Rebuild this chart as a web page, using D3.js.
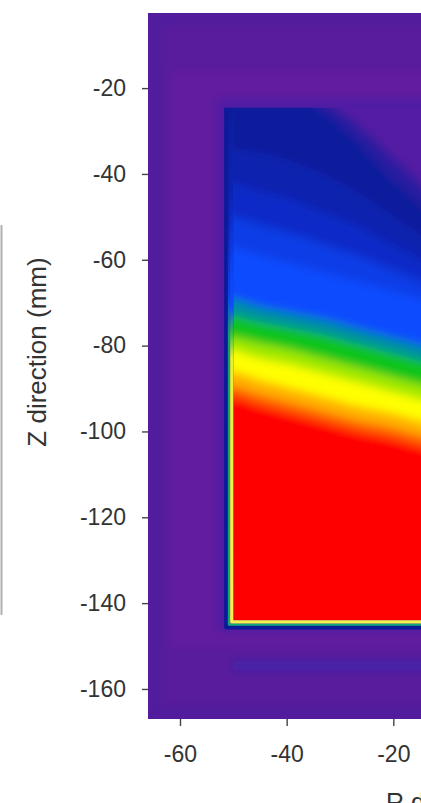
<!DOCTYPE html>
<html>
<head>
<meta charset="utf-8">
<script src="https://cdn.jsdelivr.net/npm/d3@7"></script>
<style>
  html, body { margin: 0; padding: 0; background: #ffffff; }
  svg { display: block; }
  text { font-family: "Liberation Sans", Arial, Helvetica, sans-serif; fill: #333333; }
</style>
</head>
<body>
<svg id="chart" width="421" height="803"></svg>
<script>
// ---- axis ticks (mm) ----
const rTicks = [-60, -40, -20];
const zTicks = [-20, -40, -60, -80, -100, -120, -140, -160];

// ---- field bands ----
// R positions (mm) at which the band boundaries are given
const colR = [-70, -51, -45, -39, -33, -27, -21, -15, -9, 0];
// normalized field levels and the colour used below each boundary
const fieldLevels = [0.1, 0.2, 0.25, 0.3, 0.38, 0.45, 0.55, 0.62, 0.72, 0.78, 0.86, 0.93, 1.0];
const fieldColors = ["#2a1ca0", "#0a1c9c", "#0a22ae", "#0a2cc8", "#0a3ce6", "#0a4cff", "#0090a0",
                     "#10c41a", "#a0e800", "#ffff00", "#ffb000", "#ff5a00", "#ff0000"];
// Z depth (mm) at which each level is reached, per R column
const depth10  = [-21, -21, -21, -21, -23, -28, -35, -42, -50, -62];
const depth20  = [-22, -22, -22, -22, -25.5, -32, -40, -47, -55, -67];
const depth25  = [-34, -34, -35, -37, -40, -44, -49, -54, -60, -68];
const depth30  = [-42, -42, -44, -46, -49, -52, -56, -60, -64, -70];
const depth38  = [-50, -50, -52, -54, -56.5, -59, -62, -65, -68, -72];
const depth45  = [-57, -57, -59, -61, -63, -65, -67, -69, -71, -74];
const depth55  = [-69, -69, -71, -72.5, -74, -76, -78, -80, -82, -85];
const depth62  = [-73, -73, -74.5, -76, -77.5, -79.5, -81.5, -83.5, -85.5, -88];
const depth72  = [-78, -78, -79.5, -81, -83, -85, -87, -89, -91, -94];
const depth78  = [-81, -81, -83, -84.5, -86.5, -88.5, -90.5, -92.5, -94.5, -97];
const depth86  = [-86, -86, -88, -90, -92, -94, -95.5, -97.5, -99.5, -102];
const depth93  = [-89.5, -89.5, -91.5, -93.5, -95.5, -97.5, -99, -101, -103, -106];
const depth100 = [-92, -92, -94, -96, -98, -100, -101.5, -103.5, -105.5, -108];
const levelDepths = [depth10, depth20, depth25, depth30, depth38, depth45, depth55, depth62,
                     depth72, depth78, depth86, depth93, depth100];

// ---- surrounding medium (purple shades), rectangles in mm: [r0, r1, z0, z1] ----
const bgColor = "#561c9c";
const blockBg = "#521da2";
const ringRects = [
  [-66, 66, -2.5, -167],
  [-63.5, 63.5, -5, -164],
  [-62, 62, -16, -150],
  [-53, 53, -22.5, -146.5]
];
const ringColors = ["#4f1e9e", "#581b9c", "#621a9f", "#4e1da4"];
const bandRect = [-50, 50, -153.3, -155.8];
const bandColor = "#4220a8";

// ---- inner block outline (mm) ----
const blockLeft = -50, blockTop = -24.6, blockBottom = -144;

const W = 421, H = 803;
const svg = d3.select("#chart");

const x = d3.scaleLinear().domain([-66, 66]).range([148, 148 + 132 * 5.333]);
const y = d3.scaleLinear().domain([-2.5, -167]).range([13, 719]);

const defs = svg.append("defs");
defs.append("clipPath").attr("id", "plotClip")
  .append("rect")
  .attr("x", x(-66)).attr("y", y(-2.5))
  .attr("width", x(66) - x(-66)).attr("height", y(-167) - y(-2.5));

defs.append("clipPath").attr("id", "blockClip")
  .append("rect")
  .attr("x", x(blockLeft)).attr("y", y(blockTop))
  .attr("width", W - x(blockLeft) + 50).attr("height", y(blockBottom) - y(blockTop));

function blurFilter(id, sd) {
  defs.append("filter").attr("id", id)
    .attr("filterUnits", "userSpaceOnUse")
    .attr("x", -50).attr("y", -50).attr("width", W + 100).attr("height", H + 100)
    .append("feGaussianBlur").attr("stdDeviation", sd);
}
blurFilter("softBg", 5);
blurFilter("softField", 5);

// stroke gradients along the block's left/bottom edge
function edgeGradient(id, stops) {
  const g = defs.append("linearGradient").attr("id", id)
    .attr("gradientUnits", "userSpaceOnUse")
    .attr("x1", 0).attr("x2", 0).attr("y1", y(-25)).attr("y2", y(-145));
  stops.forEach(([z, c]) => {
    g.append("stop").attr("offset", (y(z) - y(-25)) / (y(-145) - y(-25))).attr("stop-color", c);
  });
}
edgeGradient("edgeInner", [[-25, "#0a1c9c"], [-45, "#0a24b4"], [-62, "#0a44f0"], [-71, "#0a50ff"],
                           [-77, "#30c040"], [-83, "#e8f030"], [-145, "#f6f050"]]);
edgeGradient("edgeMid",   [[-25, "#0a1c9c"], [-50, "#0a24b4"], [-68, "#0a40e8"], [-78, "#10a070"],
                           [-145, "#10a878"]]);

const plot = svg.append("g").attr("clip-path", "url(#plotClip)");

// surrounding medium
const bg = plot.append("g").attr("filter", "url(#softBg)");
bg.append("rect")
  .attr("x", x(-66) - 20).attr("y", y(-2.5) - 20)
  .attr("width", x(66) - x(-66) + 40).attr("height", y(-167) - y(-2.5) + 40)
  .attr("fill", bgColor);
bg.selectAll("rect.ring").data(ringRects).join("rect").attr("class", "ring")
  .attr("x", d => x(d[0])).attr("y", d => y(d[2]))
  .attr("width", d => x(d[1]) - x(d[0])).attr("height", d => y(d[3]) - y(d[2]))
  .attr("fill", (d, i) => ringColors[i]);
bg.append("rect")
  .attr("x", x(bandRect[0])).attr("y", y(bandRect[2]))
  .attr("width", x(bandRect[1]) - x(bandRect[0])).attr("height", y(bandRect[3]) - y(bandRect[2]))
  .attr("fill", bandColor);

// inner block field
const block = plot.append("g").attr("clip-path", "url(#blockClip)");
const field = block.append("g").attr("filter", "url(#softField)");
field.append("rect")
  .attr("x", x(-66)).attr("y", y(-2.5))
  .attr("width", x(66) - x(-66)).attr("height", y(-167) - y(-2.5))
  .attr("fill", blockBg);

const area = d3.area()
  .x(d => x(d[0]))
  .y0(y(-170))
  .y1(d => y(d[1]))
  .curve(d3.curveMonotoneX);

field.selectAll("path.band")
  .data(levelDepths.map((dep, i) => ({ pts: colR.map((r, j) => [r, dep[j]]), color: fieldColors[i] })))
  .join("path").attr("class", "band")
  .attr("d", d => area(d.pts))
  .attr("fill", d => d.color);

// steep edge of the block: outline strokes stepping outwards
function edgePath(off) {
  return `M${x(blockLeft) - off},${y(blockTop)} V${y(blockBottom) + off} H${W + 40}`;
}
const edges = [
  { off: 7.2, w: 4.0, c: "#0c1a98" },
  { off: 4.4, w: 2.2, c: "url(#edgeMid)" },
  { off: 1.6, w: 3.2, c: "url(#edgeInner)" }
];
plot.selectAll("path.edge").data(edges).join("path").attr("class", "edge")
  .attr("d", d => edgePath(d.off))
  .attr("fill", "none")
  .attr("stroke", d => d.c)
  .attr("stroke-width", d => d.w)
  .attr("stroke-linejoin", "round");

// axes
const fmt = d => String(d);
const yAxis = d3.axisLeft(y).tickValues(zTicks).tickFormat(fmt).tickSize(6).tickPadding(16);
const gy = svg.append("g").attr("transform", `translate(${x(-66)},0)`).call(yAxis);
const xAxis = d3.axisBottom(x).tickValues(rTicks).tickFormat(fmt).tickSize(7).tickPadding(20);
const gx = svg.append("g").attr("transform", `translate(0,${y(-167)})`).call(xAxis);
[gx, gy].forEach(g => {
  g.select(".domain").remove();
  g.selectAll(".tick line").attr("stroke", "#444").attr("stroke-width", 1.4);
  g.selectAll(".tick text").style("font-size", "23px").attr("fill", "#333");
});

// axis titles
svg.append("text")
  .attr("transform", `translate(46,${352}) rotate(-90)`)
  .attr("text-anchor", "middle")
  .style("font-size", "26px")
  .text("Z direction (mm)");
svg.append("text")
  .attr("x", 386).attr("y", 811)
  .attr("text-anchor", "start")
  .style("font-size", "25px")
  .text("R direction (mm)");

// edge of the neighbouring panel
svg.append("line")
  .attr("x1", 1.5).attr("x2", 1.5).attr("y1", 225).attr("y2", 615)
  .attr("stroke", "#b0b0b0").attr("stroke-width", 2);
</script>
</body>
</html>
